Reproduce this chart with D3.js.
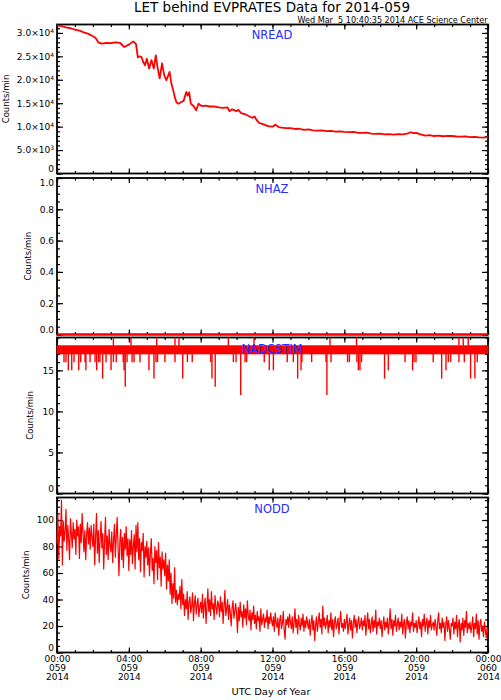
<!DOCTYPE html>
<html lang="en">
<head>
<meta charset="UTF-8">
<title>LET behind EVPRATES Data for 2014-059</title>
<script src="https://d3js.org/d3.v7.min.js"></script>
<style>
    body { margin: 0; background: #fff; }
    svg { display: block; font-family: "DejaVu Sans", sans-serif; }
    .tick line { stroke: #000; stroke-width: 1.2; }
    .tick text { fill: #000; font-size: 9px; font-family: "DejaVu Sans", sans-serif; }
</style>
</head>
<body>
<script>
var w = 501, h = 700;
var left = 57, right = 488;

// NREAD (counts/min), hour of day -> value
var nreadHours = [0, 0.25, 0.5, 0.75, 1, 1.25, 1.5, 1.75, 2, 2.15, 2.3, 2.5, 2.75, 3, 3.25, 3.5, 3.75, 4, 4.25, 4.4,
    4.5, 4.6, 4.7, 4.8, 4.9, 5, 5.13, 5.26, 5.39, 5.5, 5.6, 5.72, 5.85, 5.97, 6.09, 6.2, 6.27, 6.37, 6.47, 6.56,
    6.65, 6.75, 6.9, 7.05, 7.2, 7.28, 7.36, 7.45, 7.6, 7.75, 7.88, 8.05, 8.25, 8.5, 8.75, 9, 9.25, 9.5, 9.6, 9.75,
    10, 10.1, 10.25, 10.5, 10.75, 10.9, 11, 11.1, 11.25, 11.5, 11.75, 12, 12.15, 12.35, 12.5, 12.75, 13, 13.25, 13.5, 13.75,
    14, 14.25, 14.5, 14.75, 15, 15.25, 15.5, 15.75, 16, 16.25, 16.5, 16.75, 17, 17.25, 17.5, 17.75, 18, 18.25, 18.5, 18.75,
    19, 19.25, 19.5, 19.7, 19.85, 20, 20.25, 20.5, 20.75, 21, 21.25, 21.5, 21.75, 22, 22.25, 22.5, 22.75, 23, 23.25, 23.5,
    23.75, 24];
var nreadValues = [31600, 31450, 31200, 31000, 30700, 30500, 30100, 29800, 29300, 28900, 28000, 27700, 27900, 27800, 28000, 27900, 27000, 27500, 28200, 27600,
    24800, 25000, 24900, 23800, 23100, 24500, 22400, 24200, 22400, 25200, 22600, 20300, 23500, 21000, 19900, 21000, 21700, 19200, 17800, 16300,
    15200, 14900, 15200, 15500, 17400, 16600, 17300, 14900, 14400, 13500, 14900, 14400, 14500, 14300, 14300, 14100, 14000, 14100, 13300, 13700,
    13300, 13600, 12900, 12600, 12100, 11900, 12200, 11500, 10800, 10500, 10100, 10000, 10400, 9900, 9800, 9700, 9700, 9500, 9550, 9300,
    9400, 9200, 9150, 9200, 9050, 9100, 8950, 9000, 8900, 8850, 8900, 8700, 8650, 8700, 8500, 8450, 8500, 8350, 8400, 8300,
    8400, 8350, 8500, 8800, 8600, 8650, 8350, 8100, 8200, 8000, 8100, 7950, 8050, 8000, 7900, 7850, 7900, 7750, 7800, 7700,
    7650, 7800];

// NHAZ: zero all day
var nhazHours = [0, 24];
var nhazValues = [0, 0];

// NADCSTIM: steady 17-18 band plus single-minute excursions
var adcBandHours = [0, 24];
var adcBandLow = [17, 17];
var adcBandHigh = [18, 18];
var adcSpikeHours = [0.39, 0.50, 0.63, 0.82, 0.95, 1.21, 1.32, 1.56, 1.61, 1.84, 2.12, 2.21, 2.32, 2.39, 2.54, 2.73, 3.01, 3.14, 3.30, 3.69,
    3.73, 3.80, 3.90, 4.18, 4.29, 4.62, 5.12, 5.40, 5.51, 5.60, 6.01, 6.57, 7.00, 7.26, 7.53, 8.56, 8.63, 8.81, 9.82, 9.97,
    10.23, 10.47, 10.56, 11.54, 11.82, 12.05, 12.82, 13.16, 13.40, 13.59, 13.64, 14.18, 14.98, 15.03, 15.26, 16.18, 16.28, 16.70, 16.78, 16.87,
    16.96, 18.24, 18.45, 19.38, 19.80, 19.88, 19.99, 20.95, 21.42, 21.66, 21.79, 21.92, 22.38, 22.68, 23.03, 23.27, 23.40,
    3.14, 4.12, 5.55, 6.57, 6.79, 9.54, 10.97, 15.20, 16.68, 22.38, 22.62, 22.90];
var adcSpikeValues = [16, 16, 15, 15, 16, 15, 16, 16, 15, 16, 16, 15, 16, 16, 14, 16, 15, 16, 16, 16,
    15, 13, 16, 16, 16, 16, 15, 14, 16, 16, 16, 16, 14, 16, 16, 16, 14, 13, 16, 16,
    12, 16, 16, 16, 15, 15, 16, 16, 14, 15, 16, 16, 16, 12, 16, 16, 16, 16, 15, 15,
    16, 14, 15, 16, 15, 16, 16, 16, 14, 15, 16, 16, 16, 16, 14, 14, 16,
    19, 19, 19, 19, 19, 19, 19, 19, 19, 19, 19, 19];

// NODD, one value every 0.05 h (3 min) from 00:00, one row per hour
var noddStep = 0.05;
var noddValues = [
    82, 104, 71, 95, 88, 115, 66, 99, 84, 92, 108, 77, 96, 85, 70, 101, 90, 79, 98, 86,
    93, 74, 100, 88, 95, 71, 97, 83, 105, 90, 76, 92, 70, 89, 98, 82, 94, 78, 96, 87,
    80, 97, 66, 88, 105, 75, 92, 68, 86, 99, 79, 90, 63, 84, 102, 74, 88, 70, 93, 81,
    76, 91, 68, 85, 97, 72, 88, 102, 79, 58, 84, 93, 70, 87, 64, 90, 78, 95, 73, 86,
    62, 85, 74, 92, 67, 80, 89, 63, 96, 76, 98, 70, 86, 61, 83, 77, 90, 57, 80, 72,
    84, 66, 79, 58, 75, 86, 62, 71, 52, 80, 68, 77, 55, 83, 64, 72, 50, 76, 63, 70,
    58, 75, 48, 66, 54, 70, 44, 60, 37, 52, 41, 64, 38, 47, 36, 44, 40, 50, 33, 55,
    36, 44, 28, 40, 33, 46, 25, 38, 42, 30, 35, 45, 24, 37, 43, 29, 36, 41, 27, 34,
    38, 30, 44, 26, 36, 41, 22, 35, 48, 31, 40, 28, 46, 33, 37, 25, 43, 34, 29, 39,
    36, 27, 42, 31, 38, 22, 35, 47, 28, 33, 40, 25, 36, 30, 20, 34, 39, 26, 31, 37,
    29, 15, 34, 24, 38, 27, 31, 19, 36, 26, 33, 21, 39, 28, 24, 32, 17, 30, 25, 35,
    22, 28, 18, 31, 24, 27, 16, 33, 21, 25, 29, 19, 26, 23, 32, 18, 27, 22, 30, 24,
    20, 27, 16, 30, 23, 19, 26, 13, 24, 28, 18, 22, 31, 17, 10, 25, 21, 27, 19, 29,
    23, 18, 27, 15, 22, 33, 19, 25, 14, 28, 21, 17, 26, 20, 29, 16, 24, 19, 27, 22,
    18, 25, 13, 22, 28, 17, 24, 9, 21, 27, 16, 23, 30, 19, 25, 14, 35, 20, 26, 18,
    22, 28, 15, 24, 19, 30, 17, 25, 12, 23, 27, 18, 21, 26, 14, 24, 31, 19, 22, 16,
    25, 18, 23, 29, 14, 21, 26, 17, 24, 11, 22, 28, 19, 25, 15, 23, 27, 18, 21, 26,
    17, 24, 20, 28, 13, 22, 30, 18, 25, 15, 21, 27, 16, 24, 19, 32, 14, 23, 20, 26,
    18, 24, 12, 21, 27, 17, 23, 19, 26, 14, 22, 33, 18, 25, 13, 24, 20, 28, 16, 22,
    26, 17, 23, 19, 29, 14, 22, 25, 11, 21, 27, 18, 24, 15, 23, 20, 30, 16, 22, 19,
    24, 15, 21, 27, 18, 23, 12, 25, 20, 29, 16, 22, 26, 14, 24, 19, 28, 17, 21, 23,
    17, 25, 20, 13, 24, 30, 18, 22, 15, 26, 19, 23, 9, 21, 27, 16, 24, 18, 10, 22,
    20, 26, 14, 23, 18, 28, 12, 21, 25, 8, 22, 17, 26, 13, 24, 19, 31, 15, 22, 18,
    23, 15, 20, 27, 12, 22, 18, 29, 14, 24, 10, 21, 25, 16, 20, 12, 23, 17, 11, 19,
    15];

// x tick labels
var xTickHours = [0, 4, 8, 12, 16, 20, 24];
var xTickTimes = ["00:00", "04:00", "08:00", "12:00", "16:00", "20:00", "00:00"];
var xTickDays = ["059", "059", "059", "059", "059", "059", "060"];
var xTickYears = ["2014", "2014", "2014", "2014", "2014", "2014", "2014"];

var panels = [
    { name: "NREAD",    top: 24.5,  bottom: 173.5, max: 31800, major: 5000, minor: 1000, labX: 8.5 },
    { name: "NHAZ",     top: 178,   bottom: 334.5, max: 1,     major: 0.2,  minor: 0.05, labX: 31 },
    { name: "NADCSTIM", top: 337.5, bottom: 493.5, max: 19,    major: 5,    minor: 1,    labX: 33 },
    { name: "NODD",     top: 497.5, bottom: 652.5, max: 117,   major: 20,   minor: 5,    labX: 29 }
];

var svg = d3.select("body").append("svg")
    .attr("width", w)
    .attr("height", h);

var x = d3.scaleLinear().domain([0, 24]).range([left, right]);

svg.append("text")
    .attr("x", 272).attr("y", 12)
    .attr("text-anchor", "middle")
    .attr("font-size", "13.5px")
    .attr("textLength", 276)
    .attr("lengthAdjust", "spacingAndGlyphs")
    .text("LET behind EVPRATES Data for 2014-059");

svg.append("text")
    .attr("x", 487.5).attr("y", 22.5)
    .attr("text-anchor", "end")
    .attr("font-size", "8px")
    .attr("textLength", 190)
    .attr("lengthAdjust", "spacingAndGlyphs")
    .style("white-space", "pre")
    .text("Wed Mar  5 10:40:35 2014 ACE Science Center");

function steps(max, step) {
    var n = Math.floor(max / step + 1e-6);
    return d3.range(n + 1).map(function(i) { return +(i * step).toFixed(4); });
}

function sciLabels(sel) {
    sel.each(function(d) {
        var t = d3.select(this);
        if (d === 0) { t.text("0"); return; }
        var e = Math.floor(Math.log10(d));
        var m = d / Math.pow(10, e);
        t.text(null);
        t.append("tspan").text(m.toFixed(1) + "\u00d710");
        t.append("tspan").attr("dy", "-0.5em").attr("font-size", "6px").text(e);
    });
}

var panelY = [];

panels.forEach(function(p, pi) {
    var y = d3.scaleLinear().domain([0, p.max]).range([p.bottom, p.top]);
    panelY.push(y);
    var g = svg.append("g");
    var majors = steps(p.max, p.major);
    var minors = steps(p.max, p.minor);
    var xMinor = d3.range(25);

    // y minor ticks both sides
    g.append("g").attr("transform", "translate(" + left + ",0)")
        .call(d3.axisLeft(y).tickValues(minors).tickSize(-3).tickFormat(""));
    g.append("g").attr("transform", "translate(" + right + ",0)")
        .call(d3.axisRight(y).tickValues(minors).tickSize(-3).tickFormat(""));
    g.append("g").attr("transform", "translate(" + right + ",0)")
        .call(d3.axisRight(y).tickValues(majors).tickSize(-6).tickFormat(""));

    var fmt = p.major < 1 ? d3.format(".1f") : d3.format("d");
    var yl = g.append("g").attr("class", "ylab").attr("transform", "translate(" + left + ",0)")
        .call(d3.axisLeft(y).tickValues(majors).tickSize(-6).tickPadding(3).tickFormat(fmt));
    yl.selectAll(".tick text").attr("y", function(d) {
        var c = Math.max(p.top + 4.5, Math.min(p.bottom - 4.5, y(d)));
        return c - y(d);
    });
    if (pi === 0) yl.selectAll(".tick text").call(sciLabels);

    // x ticks top and bottom
    g.append("g").attr("transform", "translate(0," + p.top + ")")
        .call(d3.axisTop(x).tickValues(xMinor).tickSize(-2.5).tickFormat(""));
    g.append("g").attr("transform", "translate(0," + p.top + ")")
        .call(d3.axisTop(x).tickValues(xTickHours).tickSize(-5).tickFormat(""));
    g.append("g").attr("transform", "translate(0," + p.bottom + ")")
        .call(d3.axisBottom(x).tickValues(xMinor).tickSize(-2.5).tickFormat(""));
    var xb = g.append("g").attr("transform", "translate(0," + p.bottom + ")")
        .call(d3.axisBottom(x).tickValues(xTickHours).tickSize(-5).tickFormat(""));

    if (pi === panels.length - 1) {
        xb.selectAll(".tick text").each(function(d, i) {
            var t = d3.select(this).attr("dy", null).attr("y", null).text(null);
            t.append("tspan").attr("x", 0).attr("y", 9).text(xTickTimes[i]);
            t.append("tspan").attr("x", 0).attr("y", 18).text(xTickDays[i]);
            t.append("tspan").attr("x", 0).attr("y", 27).text(xTickYears[i]);
        });
    }

    g.selectAll(".domain").remove();

    g.append("rect")
        .attr("x", left).attr("y", p.top)
        .attr("width", right - left).attr("height", p.bottom - p.top)
        .attr("fill", "none").attr("stroke", "#000").attr("stroke-width", 1.8);

    g.append("text")
        .attr("transform", "translate(" + p.labX + "," + ((p.top + p.bottom) / 2) + ") rotate(-90)")
        .attr("text-anchor", "middle")
        .attr("font-size", "8.5px")
        .text("Counts/min");
});

// data
var lineOf = function(y) {
    return d3.line().x(function(d) { return x(d[0]); }).y(function(d) { return y(d[1]); });
};

svg.append("path")
    .datum(d3.zip(nreadHours, nreadValues))
    .attr("d", lineOf(panelY[0]))
    .attr("fill", "none").attr("stroke", "#ff0000").attr("stroke-width", 1.8)
    .attr("stroke-linejoin", "round");

svg.append("path")
    .datum(d3.zip(nhazHours, nhazValues))
    .attr("d", lineOf(panelY[1]))
    .attr("fill", "none").attr("stroke", "#ff0000").attr("stroke-width", 2);

var yA = panelY[2];
svg.append("path")
    .datum(d3.zip(adcBandHours, adcBandLow, adcBandHigh))
    .attr("d", d3.area().x(function(d) { return x(d[0]); })
        .y0(function(d) { return yA(d[1]); })
        .y1(function(d) { return yA(d[2]); }))
    .attr("fill", "#ff0000").attr("stroke", "#ff0000").attr("stroke-width", 0.8);

svg.append("g").selectAll("line")
    .data(d3.zip(adcSpikeHours, adcSpikeValues))
    .enter().append("line")
    .attr("x1", function(d) { return x(d[0]); })
    .attr("x2", function(d) { return x(d[0]); })
    .attr("y1", function(d) { return yA(d[1] < 17 ? 17 : 18); })
    .attr("y2", function(d) { return yA(d[1]); })
    .attr("stroke", "#ff0000").attr("stroke-width", 1.4);

svg.append("path")
    .datum(noddValues.map(function(v, i) { return [i * noddStep, v]; }))
    .attr("d", lineOf(panelY[3]))
    .attr("fill", "none").attr("stroke", "#ff0000").attr("stroke-width", 1.2)
    .attr("stroke-linejoin", "round");

// panel names on top
panels.forEach(function(p, pi) {
    svg.append("text")
        .attr("x", 272).attr("y", p.top + (pi < 2 ? 14.5 : 15.2))
        .attr("text-anchor", "middle")
        .attr("font-size", "11.5px")
        .attr("fill", "#2b2bff")
        .text(p.name);
});

svg.append("text")
    .attr("x", 271).attr("y", 695)
    .attr("text-anchor", "middle")
    .attr("font-size", "9px")
    .attr("textLength", 79)
    .attr("lengthAdjust", "spacingAndGlyphs")
    .text("UTC Day of Year");
</script>
</body>
</html>
